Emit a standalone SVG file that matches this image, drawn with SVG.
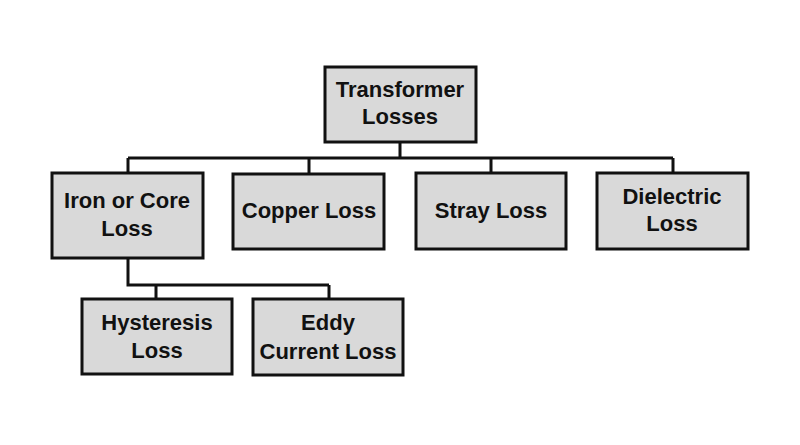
<svg xmlns="http://www.w3.org/2000/svg" width="800" height="445" viewBox="0 0 800 445">
<style>
.box{fill:#d9d9d9;stroke:#111;stroke-width:3}
.lbl{font-family:"Liberation Sans",Arial,sans-serif;font-weight:bold;font-size:22px;fill:#111;text-anchor:middle}
.con{fill:none;stroke:#111;stroke-width:3}
</style>
<rect width="800" height="445" fill="#fff"/>
<g id="connectors">
<path class="con" d="M400 142V158M128 158H673M128 158V173M309 158V174M491 158V173M673 158V173"/>
<path class="con" d="M128 258V285H329M156 285V299M329 285V299"/>
</g>
<g id="transformer-losses">
<rect class="box" x="325" y="67" width="151" height="75"/>
<text class="lbl" x="400" y="97">Transformer</text>
<text class="lbl" x="400" y="124">Losses</text>
</g>
<g id="iron-core-loss">
<rect class="box" x="52" y="173" width="151" height="85"/>
<text class="lbl" x="127" y="208">Iron or Core</text>
<text class="lbl" x="127" y="236">Loss</text>
</g>
<g id="copper-loss">
<rect class="box" x="233" y="174" width="151" height="75"/>
<text class="lbl" x="309" y="218">Copper Loss</text>
</g>
<g id="stray-loss">
<rect class="box" x="416" y="173" width="150" height="76"/>
<text class="lbl" x="491" y="218">Stray Loss</text>
</g>
<g id="dielectric-loss">
<rect class="box" x="597" y="173" width="151" height="76"/>
<text class="lbl" x="672" y="204">Dielectric</text>
<text class="lbl" x="672" y="231">Loss</text>
</g>
<g id="hysteresis-loss">
<rect class="box" x="82" y="299" width="150" height="75"/>
<text class="lbl" x="157" y="330">Hysteresis</text>
<text class="lbl" x="157" y="358">Loss</text>
</g>
<g id="eddy-current-loss">
<rect class="box" x="253" y="299" width="150" height="76"/>
<text class="lbl" x="328" y="330">Eddy</text>
<text class="lbl" x="328" y="359">Current Loss</text>
</g>
</svg>
